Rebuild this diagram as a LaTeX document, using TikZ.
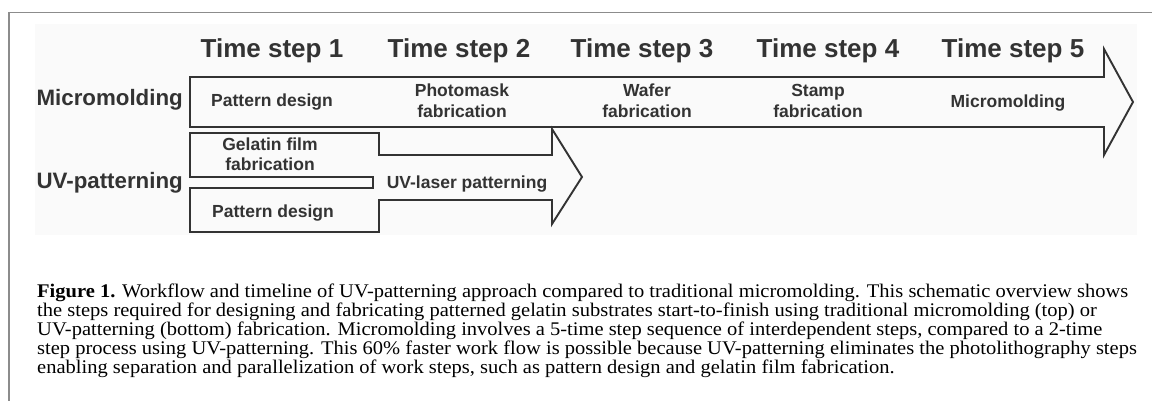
\documentclass[tikz,border=0pt]{standalone}
\usepackage{fontspec}
\usepackage{graphicx}
\setmainfont{Liberation Serif}
\newfontfamily\diagfont{Liberation Sans}
\newfontfamily\capfont{Liberation Serif}
\definecolor{ink}{HTML}{333333}
\definecolor{framegray}{HTML}{8C8C8C}
\definecolor{panelbg}{HTML}{FAFAFA}
\newlength\capw
\newcommand{\capset}{\capfont\fontsize{19.3}{19}\selectfont}
\newsavebox\caponebox
\tikzset{
  outline/.style={draw=ink, line width=1.9pt, line join=miter},
  stephead/.style={font=\diagfont\bfseries\fontsize{26}{28}\selectfont, text=ink, anchor=base, inner sep=0pt},
  rowlabel/.style={font=\diagfont\bfseries\fontsize{22.3}{24}\selectfont, text=ink, anchor=base east, inner sep=0pt},
  boxlabel/.style={font=\diagfont\bfseries\fontsize{17.5}{20}\selectfont, text=ink, anchor=base, inner sep=0pt},
  capline/.style={anchor=base west, inner sep=0pt, text=black}
}
\begin{document}
% natural width of the first caption line, used to scale all caption lines
\sbox\caponebox{\capset\textbf{Figure 1.} Workflow and timeline of UV-patterning approach compared to traditional micromolding. This schematic overview shows}%
\setlength\capw{\wd\caponebox}%
\pgfmathsetmacro\capsx{1091/\capw}%
\begin{tikzpicture}[x=1pt,y=-1pt]
\useasboundingbox (0,0) rectangle (1152,401);
% page frame (top and left rules)
\draw[framegray, line width=1.2pt] (1152,12.5) -- (9,12.5) -- (9,401);
% light panel behind the schematic
\fill[panelbg] (35,24) rectangle (1137,235);

% time step headings
\node[stephead] (ts1) at (272,58) {Time step 1};
\node[stephead] (ts2) at (459,58) {Time step 2};
\node[stephead] (ts3) at (642,58) {Time step 3};
\node[stephead] (ts4) at (828,58) {Time step 4};
\node[stephead] (ts5) at (1013,58) {Time step 5};

% micromolding timeline arrow
\draw[outline] (190,77) -- (1104,77) -- (1104,49) -- (1133,102)
  -- (1104,155) -- (1104,127) -- (190,127) -- cycle;
\node[rowlabel] (mmrow) at (183,106) {Micromolding};
\node[boxlabel] (mm1) at (272,107) {Pattern design};
\node[boxlabel] (mm2a) at (462,97) {Photomask};
\node[boxlabel] (mm2b) at (462,118) {fabrication};
\node[boxlabel] (mm3a) at (647,97) {Wafer};
\node[boxlabel] (mm3b) at (647,118) {fabrication};
\node[boxlabel] (mm4a) at (818,97) {Stamp};
\node[boxlabel] (mm4b) at (818,118) {fabrication};
\node[boxlabel] (mm5) at (1008,108) {Micromolding};

% UV-patterning: two parallel boxes merging into one arrow
\draw[outline] (190,133) -- (379,133) -- (379,155) -- (552,155) -- (552,129)
  -- (582,177) -- (552,224) -- (552,200) -- (379,200) -- (379,232)
  -- (190,232) -- (190,188) -- (373,188) -- (373,177) -- (190,177) -- cycle;
\node[rowlabel] (uvrow) at (183,189) {UV-patterning};
\node[boxlabel] (uv1a) at (270,151) {Gelatin film};
\node[boxlabel] (uv1b) at (270,171) {fabrication};
\node[boxlabel] (uv2) at (273,218) {Pattern design};
\node[boxlabel] (uv3) at (467,189) {UV-laser patterning};

% caption, five lines scaled to the text width
\node[capline] (cap1) at (37,297) {\scalebox{\capsx}[1]{\usebox\caponebox}};
\node[capline] (cap2) at (37,316) {\scalebox{\capsx}[1]{\capset the steps required for designing and fabricating patterned gelatin substrates start-to-finish using traditional micromolding (top) or}};
\node[capline] (cap3) at (37,335) {\scalebox{\capsx}[1]{\capset UV-patterning (bottom) fabrication. Micromolding involves a 5-time step sequence of interdependent steps, compared to a 2-time}};
\node[capline] (cap4) at (37,354) {\scalebox{\capsx}[1]{\capset step process using UV-patterning. This 60\% faster work flow is possible because UV-patterning eliminates the photolithography steps}};
\node[capline] (cap5) at (37,373) {\scalebox{\capsx}[1]{\capset enabling separation and parallelization of work steps, such as pattern design and gelatin film fabrication.}};
\end{tikzpicture}
\end{document}
